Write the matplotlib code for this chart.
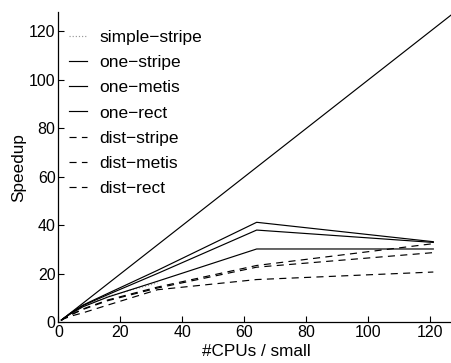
import matplotlib
matplotlib.use("Agg")
import matplotlib.pyplot as plt

plt.rcParams['font.family'] = ['Liberation Sans', 'DejaVu Sans']

# speedup data, small problem
cpus = [1, 2, 4, 8, 16, 32, 64, 121]
ideal_x = [1, 128]
ideal_y = [1, 128]

simple_cpus = [1, 2, 4, 8, 16, 32]
simple_stripe = [1, 1.9, 3.7, 6.6, 10.8, 16.3]

one_stripe = [1, 2, 3.9, 7.2, 12.0, 21.5, 41.3, 33.3]
one_metis = [1, 2, 3.8, 7.0, 11.5, 20.2, 38.1, 33.0]
one_rect = [1, 1.9, 3.6, 6.5, 10.5, 17.0, 30.3, 30.3]
dist_stripe = [1, 1.8, 3.2, 5.6, 9.3, 14.6, 23.5, 32.5]
dist_metis = [1, 1.8, 3.1, 5.4, 9.0, 14.2, 22.8, 28.8]
dist_rect = [1, 1.6, 2.6, 4.0, 7.2, 13.5, 17.7, 20.8]

labels = ["simple\u2212stripe", "one\u2212stripe", "one\u2212metis", "one\u2212rect",
          "dist\u2212stripe", "dist\u2212metis", "dist\u2212rect"]

fig = plt.figure(figsize=(4.51, 3.63), dpi=100)
ax = fig.add_axes([0.1293, 0.1116, 0.8796, 0.8554])

lw = 0.85
dash = (6, 4.5)

ax.plot(ideal_x, ideal_y, color="black", lw=lw)
h = []
h += ax.plot(simple_cpus, simple_stripe, color="0.6", lw=lw, ls=":")
h += ax.plot(cpus, one_stripe, color="black", lw=lw)
h += ax.plot(cpus, one_metis, color="black", lw=lw)
h += ax.plot(cpus, one_rect, color="black", lw=lw)
for vals in [dist_stripe, dist_metis, dist_rect]:
    h += ax.plot(cpus, vals, color="black", lw=lw, ls=(0, dash))

ax.set_xlim(0, 128)
ax.set_ylim(0, 128)
ax.set_xticks([0, 20, 40, 60, 80, 100, 120])
ax.set_yticks([0, 20, 40, 60, 80, 100, 120])
ax.tick_params(direction="in", length=4, width=0.8, labelsize=11.5, pad=2)
ax.spines["top"].set_visible(False)
ax.spines["right"].set_visible(False)
ax.spines["left"].set_linewidth(0.9)
ax.spines["bottom"].set_linewidth(0.9)

ax.set_xlabel("#CPUs / small", fontsize=12.3, labelpad=2.5)
ax.set_ylabel("Speedup", fontsize=12.3, labelpad=2)

fig.legend(h, labels, loc="upper left", bbox_to_anchor=(0.133, 0.942),
           frameon=False, fontsize=12.5, borderpad=0, handlelength=1.05,
           handletextpad=0.7, labelspacing=0.58)

fig.savefig("out.png", dpi=100)
